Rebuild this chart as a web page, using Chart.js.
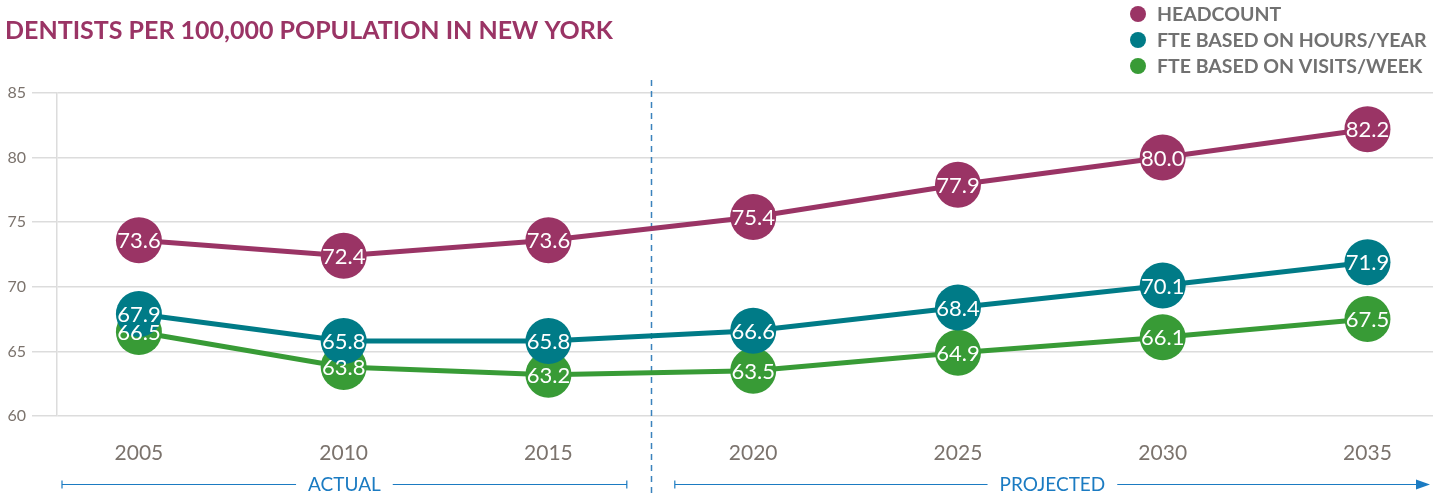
<!DOCTYPE html>
<html>
<head>
<meta charset="utf-8">
<script src="https://cdn.jsdelivr.net/npm/chart.js@4"></script>
<style>
    html, body { margin: 0; padding: 0; background: #fff; overflow: hidden; }
    #wrap { width: 1443px; height: 494px; position: relative; }
    canvas { display: block; }
</style>
</head>
<body>
<div id="wrap"><canvas id="chart"></canvas></div>
<script>
const years = [2005, 2010, 2015, 2020, 2025, 2030, 2035]
const headcount = [73.6, 72.4, 73.6, 75.4, 77.9, 80.0, 82.2]
const fteHours = [67.9, 65.8, 65.8, 66.6, 68.4, 70.1, 71.9]
const fteVisits = [66.5, 63.8, 63.2, 63.5, 64.9, 66.1, 67.5]
const yTicks = [60, 65, 70, 75, 80, 85]
const seriesNames = ["HEADCOUNT", "FTE BASED ON HOURS/YEAR", "FTE BASED ON VISITS/WEEK"]
const seriesColors = ["#9a3465", "#007b87", "#389b36"]
const splitYear = 2017.5

const font = "Lato, 'Open Sans', sans-serif"

function toPoints(values) {
    return values.map((v, i) => ({ x: years[i], y: v }))
}

// labels inside the circles
const pointLabels = {
    id: "pointLabels",
    afterDatasetsDraw(chart) {
        const ctx = chart.ctx
        ctx.save()
        ctx.fillStyle = "#fff"
        ctx.font = `22px ${font}`
        ctx.textAlign = "center"
        ctx.textBaseline = "middle"
        chart.data.datasets.forEach((ds, i) => {
            chart.getDatasetMeta(i).data.forEach((pt, j) => {
                ctx.fillText(ds.data[j].y.toFixed(1), pt.x, pt.y + 1)
            })
        })
        ctx.restore()
    }
}

// legend, split line, actual / projected markers
const extras = {
    id: "extras",
    beforeDatasetsDraw(chart) {
        const ctx = chart.ctx
        const xs = chart.scales.x
        const dx = Math.round(xs.getPixelForValue(splitYear)) + 0.5

        ctx.save()
        ctx.strokeStyle = "#3b82bd"
        ctx.lineWidth = 1.5
        ctx.setLineDash([6, 5])
        ctx.beginPath()
        ctx.moveTo(dx, 80)
        ctx.lineTo(dx, chart.height)
        ctx.stroke()
        ctx.restore()
    },
    afterDraw(chart) {
        const ctx = chart.ctx
        const xs = chart.scales.x
        const area = chart.chartArea
        const dx = xs.getPixelForValue(splitYear)
        const ly = 484.5
        const blue = "#1b7bc2"

        ctx.save()
        ctx.strokeStyle = blue
        ctx.fillStyle = blue
        ctx.lineWidth = 1.2
        ctx.font = `19px ${font}`
        ctx.textAlign = "center"
        ctx.textBaseline = "middle"

        function bracket(x1, x2, text, arrow) {
            const mid = (x1 + x2) / 2
            const half = ctx.measureText(text).width / 2 + 12
            ctx.beginPath()
            ctx.moveTo(x1, ly)
            ctx.lineTo(mid - half, ly)
            ctx.moveTo(mid + half, ly)
            ctx.lineTo(arrow ? x2 - 12 : x2, ly)
            ctx.moveTo(x1, ly - 4)
            ctx.lineTo(x1, ly + 4)
            if (!arrow) {
                ctx.moveTo(x2, ly - 4)
                ctx.lineTo(x2, ly + 4)
            }
            ctx.stroke()
            if (arrow) {
                ctx.beginPath()
                ctx.moveTo(x2, ly)
                ctx.lineTo(x2 - 14, ly - 5)
                ctx.lineTo(x2 - 14, ly + 5)
                ctx.closePath()
                ctx.fill()
            }
            ctx.fillText(text, mid, ly)
        }

        bracket(area.left + 5, dx - 24, "ACTUAL", false)
        bracket(dx + 24, area.right - 3, "PROJECTED", true)

        // legend
        ctx.textAlign = "left"
        ctx.font = `bold 19.5px ${font}`
        seriesNames.forEach((name, i) => {
            const y = 14 + i * 26
            ctx.fillStyle = seriesColors[i]
            ctx.beginPath()
            ctx.arc(1138, y, 8, 0, Math.PI * 2)
            ctx.fill()
            ctx.fillStyle = "#717171"
            ctx.fillText(name, 1157, y + 1)
        })
        ctx.restore()
    }
}

const seriesValues = [headcount, fteHours, fteVisits]

new Chart("chart", {
    type: "line",
    data: {
        // index 0 is drawn on top
        datasets: seriesValues.map((vals, i) => ({
            label: seriesNames[i],
            data: toPoints(vals),
            borderColor: seriesColors[i],
            backgroundColor: seriesColors[i],
            pointBackgroundColor: seriesColors[i],
            pointBorderWidth: 0,
            pointRadius: 23,
            pointHoverRadius: 23,
            borderWidth: 5,
            tension: 0,
        }))
    },
    options: {
        responsive: true,
        maintainAspectRatio: false,
        animation: false,
        events: [],
        layout: {
            autoPadding: false,
            padding: { left: 5, right: 10, top: 0, bottom: 0 },
        },
        plugins: {
            legend: { display: false },
            tooltip: { enabled: false },
            title: {
                display: true,
                text: "DENTISTS PER 100,000 POPULATION IN NEW YORK",
                align: "start",
                color: "#9a3465",
                font: { family: font, size: 25, weight: "bold", lineHeight: 1 },
                padding: { top: 18, bottom: 50 },
            },
        },
        scales: {
            x: {
                type: "linear",
                min: 2003,
                max: 2036.6,
                afterBuildTicks: scale => {
                    scale.ticks = years.map(v => ({ value: v }))
                },
                afterFit: scale => {
                    scale.height = 78
                    scale.paddingLeft = 0
                    scale.paddingRight = 0
                },
                grid: { display: false, drawTicks: false },
                border: { display: false },
                ticks: {
                    color: "#7b736d",
                    padding: 25,
                    font: { family: font, size: 21 },
                    callback: v => String(v),
                },
            },
            y: {
                min: 60,
                max: 85,
                afterBuildTicks: scale => {
                    scale.ticks = yTicks.map(v => ({ value: v }))
                },
                afterFit: scale => {
                    scale.width = 52
                },
                grid: { color: "#dcdcdc", lineWidth: 1.5, tickLength: 25 },
                border: { color: "#dcdcdc", width: 1.5 },
                ticks: {
                    color: "#7b736d",
                    padding: 6,
                    font: { family: font, size: 16 },
                },
            },
        },
    },
    plugins: [extras, pointLabels],
})
</script>
</body>
</html>
